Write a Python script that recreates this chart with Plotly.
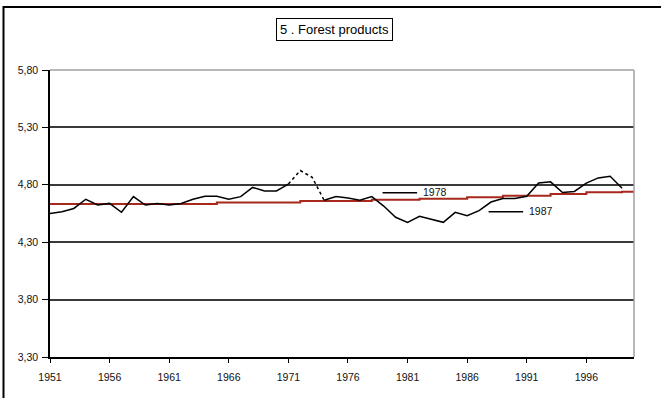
import plotly.graph_objects as go

# Annual index, 1951-1999 (log scale values)
years = list(range(1951, 2000))
index_values = [
    4.55, 4.565, 4.594, 4.674, 4.624, 4.638, 4.561, 4.697, 4.624, 4.638,
    4.624, 4.638, 4.674, 4.70, 4.70, 4.674, 4.697, 4.777, 4.747, 4.747,
    4.806, 4.924, 4.865, 4.665, 4.697, 4.685, 4.665, 4.697, 4.615, 4.517,
    4.473, 4.526, 4.50, 4.473, 4.56, 4.53, 4.575, 4.65, 4.68, 4.68,
    4.70, 4.815, 4.826, 4.733, 4.742, 4.815, 4.86, 4.874, 4.77,
]
# Years drawn with a dashed segment
dashed_years = [1971, 1972, 1973, 1974]

# Trend line, 1951-2000
trend_years = list(range(1951, 2001))
trend_values = (
    [4.633] * 14 + [4.646] * 7 + [4.659] * 6 + [4.670] * 4 + [4.679] * 4
    + [4.691] * 3 + [4.705] * 4 + [4.720] * 3 + [4.735] * 3 + [4.740] * 2
)

y_ticks = [3.30, 3.80, 4.30, 4.80, 5.30, 5.80]
x_ticks = list(range(1951, 2000, 5))
title_text = "5 . Forest products"
marker_labels = ["1978", "1987"]

W, H = 661, 398
ML, MR, MT, MB = 50, 27, 70, 41
PW, PH = W - ML - MR, H - MT - MB


def px(x):
    return (x - ML) / PW


def py(y):
    return 1 - (y - MT) / PH


solid_vals = [None if (y in dashed_years[1:-1]) else v for y, v in zip(years, index_values)]
dash_x = [y for y in years if y in dashed_years]
dash_v = [v for y, v in zip(years, index_values) if y in dashed_years]

fig = go.Figure()
fig.add_trace(go.Scatter(
    x=trend_years, y=trend_values, mode="lines", line_shape="hv",
    line=dict(color="#A8281C", width=2), showlegend=False, hoverinfo="skip",
))
fig.add_trace(go.Scatter(
    x=years, y=solid_vals, mode="lines", connectgaps=False,
    line=dict(color="black", width=1.5), showlegend=False,
))
fig.add_trace(go.Scatter(
    x=dash_x, y=dash_v, mode="lines",
    line=dict(color="black", width=1.5, dash="3px,3px"), showlegend=False,
))

font = dict(family="Liberation Sans, Arial, sans-serif", size=10.5, color="#111111")

fig.update_layout(
    width=W, height=H,
    margin=dict(l=ML, r=MR, t=MT, b=MB, pad=0),
    paper_bgcolor="white", plot_bgcolor="white",
    separators=", ",
    font=font,
    showlegend=False,
    xaxis=dict(
        range=[1951, 2000], tickvals=x_ticks, ticktext=[str(t) for t in x_ticks],
        showgrid=False, zeroline=False, showline=True, linecolor="black", linewidth=1.5,
        ticks="outside", ticklen=4, tickwidth=1, tickcolor="black", tickfont=font,
        ticklabelstandoff=6,
    ),
    yaxis=dict(
        range=[3.30, 5.80], tickvals=y_ticks, tickformat=".2f",
        showgrid=True, gridcolor="#3A3A3A", gridwidth=1.6, zeroline=False,
        showline=True, linecolor="black", linewidth=1.5,
        ticks="outside", ticklen=6, tickwidth=1, tickcolor="black", tickfont=font,
        ticklabelstandoff=2,
    ),
)

shapes = []
# plot area border (top and right) in grey
shapes.append(dict(type="line", xref="paper", yref="paper", x0=0, x1=1, y0=1, y1=1,
                   line=dict(color="#A0A0A0", width=1.5), layer="above"))
shapes.append(dict(type="line", xref="paper", yref="paper", x0=1, x1=1, y0=0, y1=1,
                   line=dict(color="#A0A0A0", width=1.5), layer="above"))
# outer chart frame
shapes.append(dict(type="rect", xref="paper", yref="paper",
                   x0=px(3.5), x1=px(W + 5), y0=py(H + 5), y1=py(7),
                   line=dict(color="black", width=2), fillcolor="rgba(0,0,0,0)"))
# label leader lines
shapes.append(dict(type="line", xref="x", yref="y", x0=1978.9, x1=1981.8, y0=4.731, y1=4.731,
                   line=dict(color="black", width=1.5)))
shapes.append(dict(type="line", xref="x", yref="y", x0=1987.8, x1=1990.7, y0=4.566, y1=4.566,
                   line=dict(color="black", width=1.5)))
fig.update_layout(shapes=shapes)

fig.add_annotation(x=1982.1, y=4.734, xref="x", yref="y", text=marker_labels[0],
                   showarrow=False, xanchor="left", yanchor="middle", font=font)
fig.add_annotation(x=1991.0, y=4.569, xref="x", yref="y", text=marker_labels[1],
                   showarrow=False, xanchor="left", yanchor="middle", font=font)

fig.add_annotation(
    x=px(334), y=py(29), xref="paper", yref="paper", text=title_text,
    showarrow=False, xanchor="center", yanchor="middle",
    font=dict(family="Liberation Sans, Arial, sans-serif", size=13, color="black"),
    bordercolor="black", borderwidth=1, borderpad=3, bgcolor="white",
)

fig.write_html("out.html")
